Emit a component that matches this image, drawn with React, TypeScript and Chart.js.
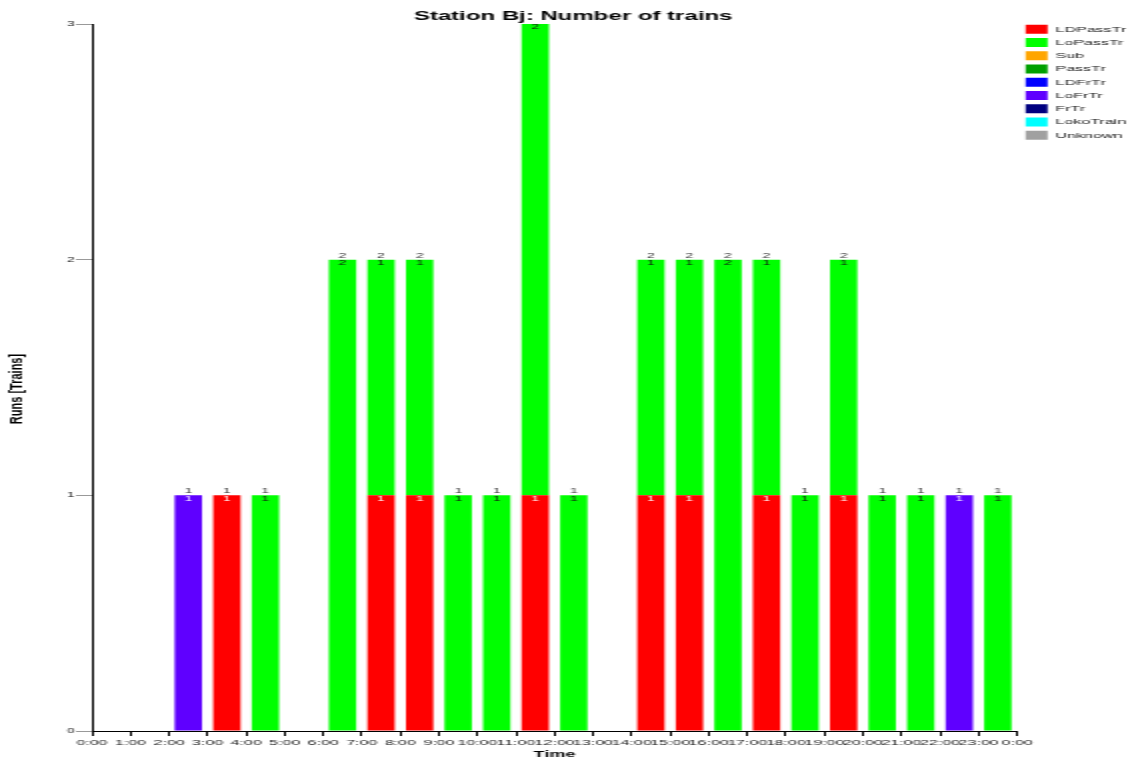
import React, { useEffect, useRef } from 'react';
import { Chart, registerables } from 'chart.js';

Chart.register(...registerables);

// ---- data ----
const hours = [0, 1, 2, 3, 4, 5, 6, 7, 8, 9, 10, 11, 12, 13, 14, 15, 16, 17, 18, 19, 20, 21, 22, 23];
const timeLabels = [
  '0:00', '1:00', '2:00', '3:00', '4:00', '5:00', '6:00', '7:00', '8:00', '9:00', '10:00', '11:00',
  '12:00', '13:00', '14:00', '15:00', '16:00', '17:00', '18:00', '19:00', '20:00', '21:00', '22:00', '23:00', '0:00',
];
const yTickLabels = ['0', '1', '2', '3'];

const seriesNames = ['LDPassTr', 'LoPassTr', 'Sub', 'PassTr', 'LDFrTr', 'LoFrTr', 'FrTr', 'LokoTrain', 'Unknown'];
const seriesColors = ['#ff0000', '#00ff00', '#ffa500', '#00a000', '#0000ff', '#5f00ff', '#000080', '#00ffff', '#a0a0a0'];
const insideLabelColors = ['#ffffff', '#111111', '#111111', '#ffffff', '#ffffff', '#ffffff', '#ffffff', '#111111', '#111111'];

const ldPassTr = [0, 0, 0, 1, 0, 0, 0, 1, 1, 0, 0, 1, 0, 0, 1, 1, 0, 1, 0, 1, 0, 0, 0, 0];
const loPassTr = [0, 0, 0, 0, 1, 0, 2, 1, 1, 1, 1, 2, 1, 0, 1, 1, 2, 1, 1, 1, 1, 1, 0, 1];
const sub = [0, 0, 0, 0, 0, 0, 0, 0, 0, 0, 0, 0, 0, 0, 0, 0, 0, 0, 0, 0, 0, 0, 0, 0];
const passTr = [0, 0, 0, 0, 0, 0, 0, 0, 0, 0, 0, 0, 0, 0, 0, 0, 0, 0, 0, 0, 0, 0, 0, 0];
const ldFrTr = [0, 0, 0, 0, 0, 0, 0, 0, 0, 0, 0, 0, 0, 0, 0, 0, 0, 0, 0, 0, 0, 0, 0, 0];
const loFrTr = [0, 0, 1, 0, 0, 0, 0, 0, 0, 0, 0, 0, 0, 0, 0, 0, 0, 0, 0, 0, 0, 0, 1, 0];
const frTr = [0, 0, 0, 0, 0, 0, 0, 0, 0, 0, 0, 0, 0, 0, 0, 0, 0, 0, 0, 0, 0, 0, 0, 0];
const lokoTrain = [0, 0, 0, 0, 0, 0, 0, 0, 0, 0, 0, 0, 0, 0, 0, 0, 0, 0, 0, 0, 0, 0, 0, 0];
const unknown = [0, 0, 0, 0, 0, 0, 0, 0, 0, 0, 0, 0, 0, 0, 0, 0, 0, 0, 0, 0, 0, 0, 0, 0];

const seriesValues = [ldPassTr, loPassTr, sub, passTr, ldFrTr, loFrTr, frTr, lokoTrain, unknown];

const chartTitle = 'Station Bj: Number of trains';
const xAxisTitle = 'Time';
const yAxisTitle = 'Runs [Trains]';

const FONT = '"Liberation Sans", Arial, Helvetica, sans-serif';

const barLabelPlugin = {
  id: 'barLabels',
  afterDatasetsDraw(chart: any) {
    const { ctx, chartArea } = chart;
    ctx.save();
    ctx.beginPath();
    ctx.rect(chartArea.left, chartArea.top, chartArea.right - chartArea.left, chartArea.bottom - chartArea.top);
    ctx.clip();
    ctx.font = `7px ${FONT}`;
    ctx.textAlign = 'center';
    chart.data.datasets.forEach((ds: any, i: number) => {
      const meta = chart.getDatasetMeta(i);
      meta.data.forEach((bar: any, j: number) => {
        const v = seriesValues[i][j];
        if (!v) return;
        const { x, y } = bar.getProps(['x', 'y'], true);
        ctx.fillStyle = insideLabelColors[i];
        ctx.textBaseline = 'top';
        ctx.fillText(String(v), x, y);
      });
    });
    const xScale = chart.scales.x;
    const yScale = chart.scales.y;
    hours.forEach((h, j) => {
      let total = 0;
      seriesValues.forEach((s) => { total += s[j]; });
      if (!total) return;
      const x = xScale.getPixelForValue(h + 0.5);
      const y = yScale.getPixelForValue(total);
      ctx.fillStyle = '#333333';
      ctx.textBaseline = 'alphabetic';
      ctx.fillText(String(total), x, y - 2);
    });
    ctx.restore();
  },
};

const yTitlePlugin = {
  id: 'yTitle',
  afterDraw(chart: any) {
    const ctx = chart.ctx;
    ctx.save();
    ctx.translate(8.5, 389);
    ctx.scale(0.8, 1);
    ctx.rotate(-Math.PI / 2);
    ctx.font = `bold 11px ${FONT}`;
    ctx.fillStyle = '#000000';
    ctx.textAlign = 'center';
    ctx.textBaseline = 'middle';
    ctx.fillText(yAxisTitle, 0, 0);
    ctx.restore();
  },
};

export default function App() {
  const canvasRef = useRef<HTMLCanvasElement | null>(null);

  useEffect(() => {
    if (!canvasRef.current) return;
    Chart.defaults.font.family = FONT;
    const datasets = seriesNames.map((name, i) => ({
      label: name,
      data: hours.map((h, j) => ({ x: h + 0.5, y: seriesValues[i][j] ? seriesValues[i][j] : null })),
      backgroundColor: seriesColors[i],
      borderColor: seriesColors[i],
      borderWidth: 0,
      barPercentage: 0.71,
      categoryPercentage: 1,
    }));

    const chart = new Chart(canvasRef.current, {
      type: 'bar',
      data: { datasets } as any,
      options: {
        animation: false,
        responsive: false,
        devicePixelRatio: 1,
        layout: { padding: { left: 0, right: -8.1, top: 0, bottom: 0 } },
        plugins: {
          title: {
            display: true,
            text: chartTitle,
            color: '#000000',
            font: { size: 12, weight: 'bold' },
            padding: { top: 9.6, bottom: 0 },
          },
          legend: {
            display: true,
            position: 'right',
            align: 'start',
            title: { display: true, text: ' ', font: { size: 8 }, padding: { top: 11, bottom: 0 } },
            labels: {
              boxWidth: 11,
              boxHeight: 9,
              padding: 4.25,
              color: '#222222',
              font: { size: 8 },
            },
          },
          tooltip: { enabled: false },
        },
        scales: {
          x: {
            type: 'linear',
            stacked: true,
            min: 0,
            max: 24,
            offset: false,
            grid: { drawOnChartArea: false, color: '#000000', tickLength: 5, offset: false },
            border: { color: '#000000', width: 1 },
            ticks: {
              stepSize: 1,
              maxTicksLimit: 25,
              autoSkip: false,
              maxRotation: 0,
              minRotation: 0,
              padding: 2,
              color: '#222222',
              font: { size: 8 },
              callback: (v: any) => timeLabels[Math.round(Number(v))],
            },
            title: {
              display: true,
              text: xAxisTitle,
              color: '#000000',
              font: { size: 9, weight: 'bold' },
              padding: { top: 0, bottom: 1.6 },
            },
          },
          y: {
            type: 'linear',
            stacked: true,
            min: 0,
            max: 3,
            grid: { drawOnChartArea: false, color: '#999999', tickLength: 8 },
            border: { color: '#000000', width: 1 },
            ticks: {
              stepSize: 1,
              padding: 0.5,
              color: '#222222',
              font: { size: 7 },
              callback: (v: any) => yTickLabels[Math.round(Number(v))],
            },
            afterFit: (scale: any) => { scale.width = 46; },
          },
        },
      } as any,
      plugins: [barLabelPlugin, yTitlePlugin],
    });
    return () => chart.destroy();
  }, []);

  return (
    <div style={{ position: 'absolute', left: 0, top: 0, width: 1130, height: 762, background: '#ffffff' }}>
      <canvas
        ref={canvasRef}
        width={565}
        height={762}
        style={{ width: '1130px', height: '762px', display: 'block' }}
      />
    </div>
  );
}
